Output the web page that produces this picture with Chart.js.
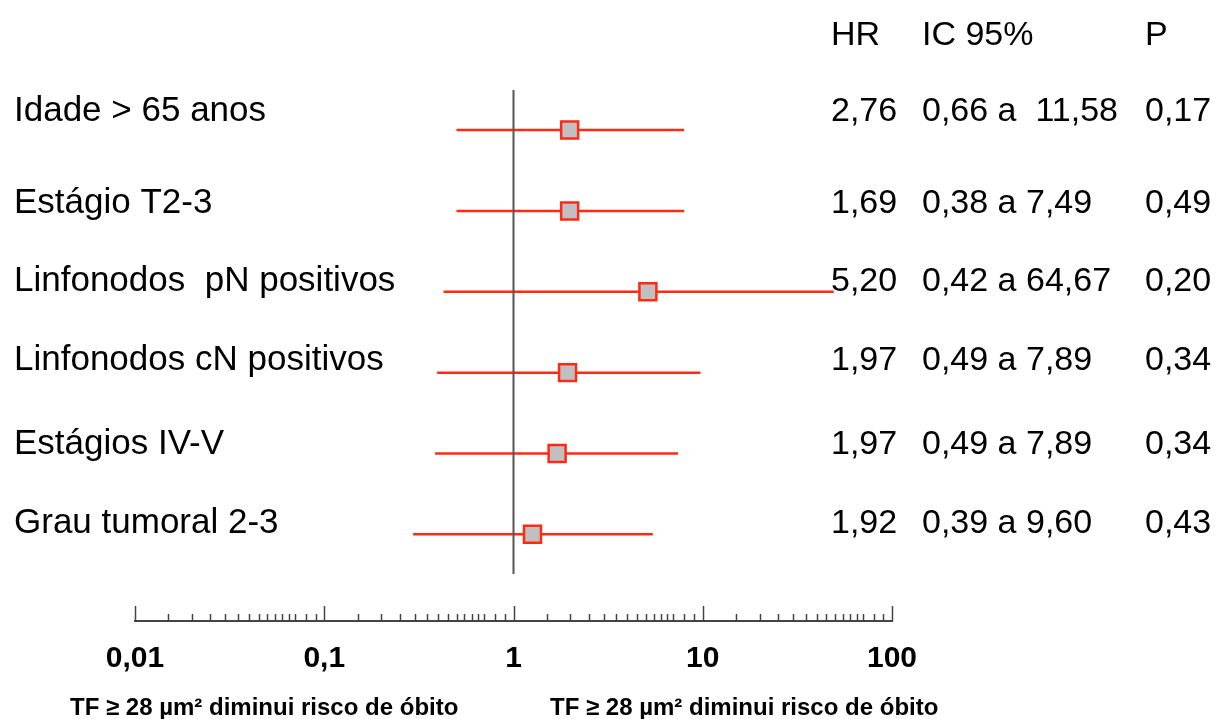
<!DOCTYPE html>
<html>
<head>
<meta charset="utf-8">
<script src="https://cdn.jsdelivr.net/npm/chart.js@4/dist/chart.umd.min.js"></script>
<style>
  body { margin: 0; background: #fff; }
  #box { width: 1217px; height: 719px; }
</style>
</head>
<body>
<div id="box"><canvas id="myChart"></canvas></div>
<script>
const categorias = ['Idade > 65 anos', 'Estágio T2-3', 'Linfonodos  pN positivos',
  'Linfonodos cN positivos', 'Estágios IV-V', 'Grau tumoral 2-3'];

// posicao dos quadrados e das linhas
const hr = [1.98, 1.98, 5.13, 1.93, 1.70, 1.26];
const icInf = [0.50, 0.50, 0.427, 0.395, 0.385, 0.295];
const icSup = [7.98, 7.98, 49.2, 9.73, 7.40, 5.45];

// tabela da direita
const hrTexto = ['2,76', '1,69', '5,20', '1,97', '1,97', '1,92'];
const icTexto = ['0,66 a  11,58', '0,38 a 7,49', '0,42 a 64,67', '0,49 a 7,89', '0,49 a 7,89', '0,39 a 9,60'];
const pTexto = ['0,17', '0,49', '0,20', '0,34', '0,34', '0,43'];

const ticksX = [0.01, 0.1, 1, 10, 100];
const ticksXTexto = ['0,01', '0,1', '1', '10', '100'];
const ticksMenores = [1.5, 2, 2.5, 3, 3.5, 4, 4.5, 5, 5.5, 6, 6.5, 7, 8, 9];

const rodape = 'TF \u2265 28 \u00b5m\u00b2 diminui risco de \u00f3bito';

const vermelho = '#ff2a14';
const ajusteTexto = [-9, 2, -1, -3, 1, -1];

Chart.defaults.font.family = "'Liberation Sans', Arial, sans-serif";

const datasets = [];
datasets.push({
  data: hr.map((v, i) => ({ x: v, y: i })),
  pointStyle: 'rect',
  pointRadius: 12,
  pointBackgroundColor: '#c0c0c0',
  pointBorderColor: vermelho,
  pointBorderWidth: 2.5,
  showLine: false
});
datasets.push({
  data: [{ x: 1, y: -0.5 }, { x: 1, y: 5.49 }],
  showLine: true,
  borderColor: '#555',
  borderWidth: 2,
  pointRadius: 0
});
categorias.forEach((c, i) => {
  datasets.push({
    data: [{ x: icInf[i], y: i }, { x: icSup[i], y: i }],
    showLine: true,
    borderColor: vermelho,
    borderWidth: 2.5,
    pointRadius: 0
  });
});

const textos = {
  id: 'textos',
  afterDraw(chart) {
    const ctx = chart.ctx;
    const x = chart.scales.x;
    const y = chart.scales.y;
    ctx.save();
    ctx.fillStyle = '#000';
    ctx.textBaseline = 'alphabetic';
    ctx.textAlign = 'left';

    // marcas do eixo (para cima)
    const base = chart.chartArea.bottom;
    ctx.strokeStyle = '#444';
    ctx.lineWidth = 1.5;
    ticksX.forEach((t, k) => {
      const px = Math.round(x.getPixelForValue(t)) + 0.5;
      ctx.beginPath();
      ctx.moveTo(px, base);
      ctx.lineTo(px, base - 15);
      ctx.stroke();
      if (k < ticksX.length - 1) {
        ticksMenores.forEach(m => {
          const pm = Math.round(x.getPixelForValue(t * m)) + 0.5;
          ctx.beginPath();
          ctx.moveTo(pm, base);
          ctx.lineTo(pm, base - 7);
          ctx.stroke();
        });
      }
    });

    ctx.font = "34px 'Liberation Sans', Arial, sans-serif";
    ctx.fillText('HR', 831, 45);
    ctx.fillText('IC 95%', 922, 45);
    ctx.fillText('P', 1145, 45);

    categorias.forEach((c, i) => {
      const py = y.getPixelForValue(i) + ajusteTexto[i];
      ctx.font = "35px 'Liberation Sans', Arial, sans-serif";
      ctx.fillText(c, 14, py);
      ctx.font = "34px 'Liberation Sans', Arial, sans-serif";
      ctx.fillText(hrTexto[i], 831, py);
      ctx.fillText(icTexto[i], 922, py);
      ctx.fillText(pTexto[i], 1145, py);
    });

    ctx.font = "bold 24px 'Liberation Sans', Arial, sans-serif";
    ctx.fillText(rodape, 70, 715);
    ctx.fillText(rodape, 550, 715);
    ctx.restore();
  }
};

const ctx = document.getElementById('myChart').getContext('2d');

new Chart(ctx, {
  type: 'scatter',
  data: { datasets: datasets },
  options: {
    responsive: true,
    maintainAspectRatio: false,
    animation: false,
    layout: { padding: { left: 135, right: 325, top: 90, bottom: 22 } },
    plugins: { legend: { display: false }, tooltip: { enabled: false } },
    scales: {
      x: {
        type: 'logarithmic',
        min: 0.01,
        max: 100,
        afterBuildTicks: scale => {
          scale.ticks = ticksX.map(v => ({ value: v }));
        },
        ticks: {
          autoSkip: false,
          maxRotation: 0,
          padding: 20,
          color: '#000',
          font: { size: 30, weight: 'bold' },
          callback: (value) => {
            const k = ticksX.findIndex(t => Math.abs(t - value) / t < 1e-6);
            return k >= 0 ? ticksXTexto[k] : '';
          }
        },
        grid: { display: false, drawTicks: false },
        border: { display: true, color: '#444', width: 2 }
      },
      y: {
        type: 'linear',
        display: false,
        reverse: true,
        min: -0.496,
        max: 6.072
      }
    }
  },
  plugins: [textos]
});
</script>
</body>
</html>
